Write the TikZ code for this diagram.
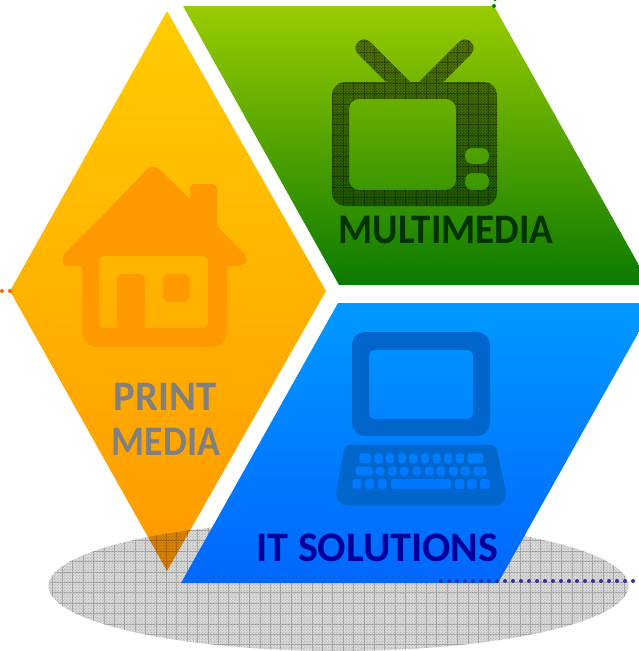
\documentclass[tikz,border=0pt]{standalone}
\usepackage{fontspec}
\setmainfont{Carlito}
\usetikzlibrary{patterns}
\definecolor{gOrangeT}{HTML}{FFCC00}
\definecolor{gOrangeB}{HTML}{FF9900}
\definecolor{gGreenT}{HTML}{99CC00}
\definecolor{gGreenM}{HTML}{62AC00}
\definecolor{gGreenB}{HTML}{0A7A00}
\definecolor{gBlueT}{HTML}{0099FF}
\definecolor{gBlueB}{HTML}{0066FF}
\definecolor{iconBlue}{HTML}{0066CC}
\definecolor{dotNavy}{HTML}{333399}
\definecolor{dotGreen}{HTML}{008000}
\definecolor{dotOrange}{HTML}{FF6600}
\definecolor{txtGreen}{HTML}{003300}
\definecolor{txtNavy}{HTML}{000099}
\definecolor{txtGray}{HTML}{808080}
\pgfdeclarepatternformonly{finecheck}{\pgfqpoint{0pt}{0pt}}{\pgfqpoint{3pt}{3pt}}{\pgfqpoint{3pt}{3pt}}{%
  \pgfpathrectangle{\pgfqpoint{0pt}{0pt}}{\pgfqpoint{1.5pt}{1.5pt}}%
  \pgfpathrectangle{\pgfqpoint{1.5pt}{1.5pt}}{\pgfqpoint{1.5pt}{1.5pt}}%
  \pgfusepath{fill}}
\tikzset{
  label text/.style={font=\bfseries\fontsize{42}{42}\selectfont,inner sep=0pt,anchor=base},
  smalldot/.style={circle,inner sep=0pt,minimum size=4pt},
}
\def\tvpath{
  (370,82) -- (386,82) -- (358,54)
  .. controls (350,46) and (362,34) .. (370,42)
  -- (410,82) -- (419,82) -- (459,42)
  .. controls (467,34) and (479,46) .. (471,54)
  -- (443,82) [rounded corners=13pt] -- (497,82) -- (497,206) -- (332,206) -- (332,82) [sharp corners] -- cycle
  [rounded corners=10pt] (349,99) rectangle (456,190)
  [rounded corners=7pt] (465,148) rectangle (489,164)
  (465,173) rectangle (489,190)
}
\begin{document}
\begin{tikzpicture}[x=1pt,y=-1pt]
\useasboundingbox (0,0) rectangle (639,651);
\clip (0,0) rectangle (639,651);
% print media diamond
\shade[top color=gOrangeT,bottom color=gOrangeB] (167,11) -- (326,291) -- (167,571) -- (10,291) -- cycle;
\fill[gOrangeB,even odd rule]
  (108,210) [rounded corners=9pt] -- (153,163) [sharp corners] -- (190,199) [rounded corners=4pt] -- (190,184) -- (217,184) [sharp corners] -- (217,226) [rounded corners=6pt] -- (248,258) -- (244,266) [sharp corners] -- (227,266) [rounded corners=15pt] -- (227,347) -- (82,347) [sharp corners] -- (82,266) [rounded corners=6pt] -- (62,266) -- (62,256) [sharp corners] -- cycle
  (150,256) [rounded corners=6pt] -- (208,256) -- (208,328) [sharp corners] -- (145,328) [rounded corners=6pt] -- (145,274) -- (117,274) [sharp corners] -- (117,328) [rounded corners=6pt] -- (99,328) -- (99,256) [sharp corners] -- cycle
  [rounded corners=7pt] (163,274) rectangle (190,302);
% shadow ellipse
\begin{scope}
  \clip (338.5,586) ellipse [x radius=290,y radius=65];
  \fill[black,opacity=.14] (40,515) rectangle (639,651);
  \fill[pattern=finecheck,pattern color=black,opacity=.14] (40,515) rectangle (639,651);
  \draw[black,opacity=.2,line width=1pt,step=10.4pt] (40,515) grid (639,651);
\end{scope}
% multimedia
\shade[top color=gGreenT,middle color=gGreenM,bottom color=gGreenB] (183,6) -- (494,6) -- (650,285) -- (339,285) -- cycle;
\fill[black,opacity=.38,even odd rule] \tvpath;
\begin{scope}[even odd rule]
  \clip \tvpath;
  \fill[pattern=finecheck,pattern color=black,opacity=.3] (320,30) rectangle (510,215);
  \draw[black,opacity=.3,line width=.9pt,step=10.4pt] (320,30) grid (510,215);
\end{scope}
% it solutions
\shade[top color=gBlueT,bottom color=gBlueB] (338,303) -- (655,303) -- (498,583) -- (181,583) -- cycle;
\fill[iconBlue,even odd rule]
  [rounded corners=13pt] (352,332) rectangle (490,436)
  [rounded corners=5pt] (369,350) rectangle (473,419);
\begin{scope}[shift={(320,320)},x=.3333pt,y=-.3333pt]
\fill[iconBlue,even odd rule]
  (300,375) [rounded corners=5pt] -- (528,375) [rounded corners=15pt] -- (566,557) -- (41,557) [rounded corners=5pt] -- (75,375) [sharp corners] -- cycle
  [rounded corners=2.5pt]
  \foreach \a/\b in {118/153,163/188,198/222,235/258,268/292,303/327,338/362,372/397,407/432,442/490} { (\a,400) rectangle (\b,430) }
  \foreach \a/\b in {107/158,168/193,205/230,240/265,278/303,315/340,350/375,387/413,423/450,460/500} { (\a,440) rectangle (\b,467) }
  \foreach \a/\b in {97/125,135/163,173/200,213/393,405/433,442/470,480/510} { (\a,477) rectangle (\b,507) };
\end{scope}
% decorative dots
\foreach \i in {0,...,24} { \node[smalldot,fill=dotNavy] (nd\i) at ({441+8*\i},581) {}; }
\node[smalldot,fill=dotGreen] (gd1) at (494,6) {};
\node[smalldot,fill=dotGreen] (gd2) at (495,-1) {};
\node[smalldot,fill=dotOrange] (od1) at (10,291) {};
\node[smalldot,fill=dotOrange] (od2) at (2,291) {};
% labels
\node[label text,text=txtGreen] (multimedia) at (446,243) {\scalebox{.93}[1]{MULTIMEDIA}};
\node[label text,text=txtGray] (print) at (165,410) {\scalebox{.97}[1]{PRINT}};
\node[label text,text=txtGray] (media) at (166,455) {\scalebox{.9}[1]{MEDIA}};
\node[label text,text=txtNavy] (it) at (377.5,561) {IT SOLUTIONS};
\end{tikzpicture}
\end{document}
